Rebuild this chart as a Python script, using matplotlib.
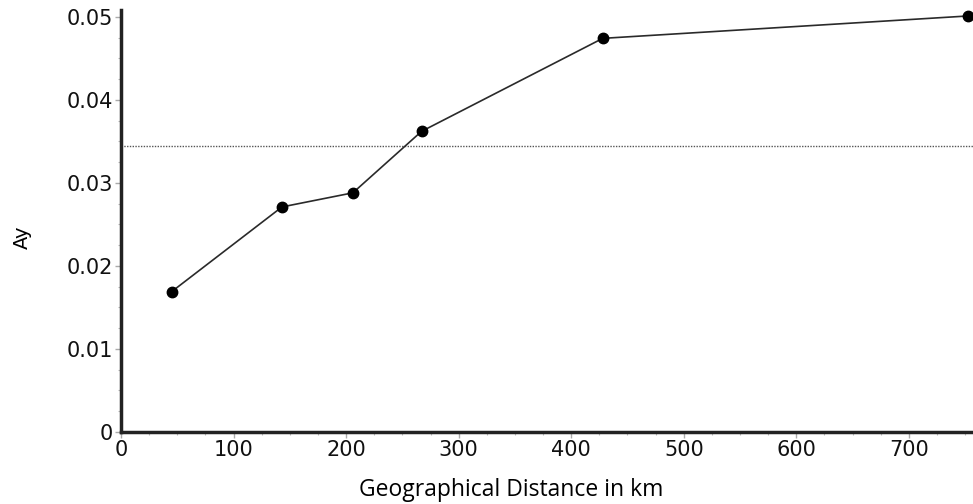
import matplotlib.pyplot as plt
from matplotlib.ticker import MultipleLocator

# values
distance = [45, 143, 206, 267, 428, 753]
ay = [0.0169, 0.0271, 0.0288, 0.0362, 0.0474, 0.0501]
mean_ay = 0.0344

x_ticks = [0, 100, 200, 300, 400, 500, 600, 700]
y_ticks = [0, 0.01, 0.02, 0.03, 0.04, 0.05]
y_tick_labels = ['0', '0.01', '0.02', '0.03', '0.04', '0.05']

fig = plt.figure(figsize=(9.73, 5.04), dpi=100)
ax = fig.add_axes([0.1244, 0.1429, 0.8756, 0.837])

ax.axhline(mean_ay, color='#555555', linestyle=(0, (1, 1)), linewidth=1)
ax.plot(distance, ay, color='#2a2a2a', linewidth=1.2, marker='o',
        markersize=7.5, markerfacecolor='black', markeredgecolor='black',
        clip_on=False, zorder=3)

ax.set_xlim(0, 757)
ax.set_ylim(0, 0.0508)
ax.set_xticks(x_ticks)
ax.set_yticks(y_ticks)
ax.set_yticklabels(y_tick_labels)
ax.xaxis.set_minor_locator(MultipleLocator(25))
ax.yaxis.set_minor_locator(MultipleLocator(0.0025))

for side in ['top', 'right']:
    ax.spines[side].set_visible(False)
for side in ['left', 'bottom']:
    ax.spines[side].set_linewidth(2.5)
    ax.spines[side].set_color('#222222')

ax.tick_params(which='major', length=4, width=1, color='#aaaaaa',
               labelsize=15, pad=2, labelcolor='#111111')
ax.tick_params(which='minor', length=2.5, width=0.8, color='#bbbbbb')

fig.text(511 / 973, 1 - 490 / 504, 'Geographical Distance in km',
         ha='center', va='center', fontsize=16.5, family='Open Sans')
fig.text(22 / 973, 1 - 237 / 504, 'Ay', rotation=90,
         ha='center', va='center', fontsize=14)

fig.savefig('out.png', dpi=100)
